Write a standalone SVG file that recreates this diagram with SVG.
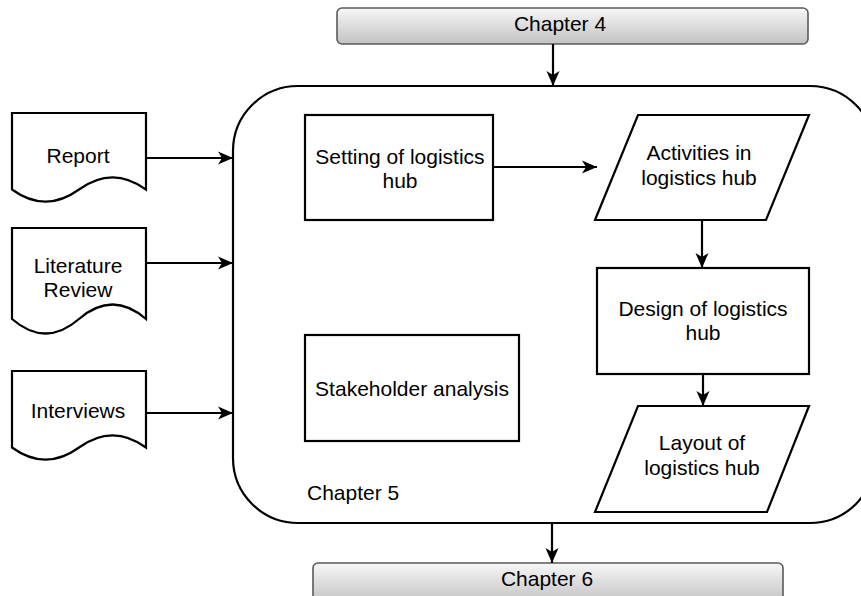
<svg xmlns="http://www.w3.org/2000/svg" width="861" height="596" viewBox="0 0 861 596">
  <style>
    .shape { fill: #ffffff; stroke: #000000; stroke-width: 2.2; }
    .chapter { fill: url(#chapterFill); stroke: #5a5a5a; stroke-width: 1.6; }
    .label { font-family: "Liberation Sans", Arial, Helvetica, sans-serif; font-size: 21px; fill: #000000; text-anchor: middle; }
    .left { text-anchor: start; }
    .edge { fill: none; stroke: #000000; stroke-width: 2.2; }
  </style>
  <defs>
    <linearGradient id="chapterFill" x1="0" y1="0" x2="0" y2="1">
      <stop offset="0" stop-color="#f7f7f7"/>
      <stop offset="1" stop-color="#c2c2c2"/>
    </linearGradient>
    <marker id="arrow" markerUnits="userSpaceOnUse" markerWidth="16" markerHeight="14" refX="15" refY="7" orient="auto">
      <path d="M0,0.5 L15,7 L0,13.5 L4,7 Z" fill="#000000"/>
    </marker>
  </defs>

  <!-- chapter 5 container -->
  <g id="chapter5">
    <rect class="shape" x="233" y="86" width="642" height="437" rx="65" ry="65"/>
    <text class="label left" x="307" y="500">Chapter 5</text>
  </g>

  <g id="chapter4">
    <rect class="chapter" x="337" y="8" width="471" height="36" rx="5" ry="5"/>
    <text class="label" x="560" y="31">Chapter 4</text>
  </g>

  <g id="chapter6">
    <rect class="chapter" x="313" y="563" width="470" height="40" rx="5" ry="5"/>
    <text class="label" x="547" y="586">Chapter 6</text>
  </g>

  <g id="report">
    <path class="shape" d="M12,113 H146 V189.5 Q112.5,165.2 79,189.5 Q45.5,213.8 12,189.5 Z"/>
    <text class="label" x="78" y="163">Report</text>
  </g>

  <g id="literature-review">
    <path class="shape" d="M12,228 H146 V319 Q112.5,290 79,319 Q45.5,348 12,319 Z"/>
    <text class="label" x="78" y="273">Literature</text>
    <text class="label" x="78" y="297">Review</text>
  </g>

  <g id="interviews">
    <path class="shape" d="M12,371 H146 V447.5 Q112.5,423.2 79,447.5 Q45.5,471.8 12,447.5 Z"/>
    <text class="label" x="78" y="418">Interviews</text>
  </g>

  <g id="setting">
    <rect class="shape" x="305" y="115" width="188" height="105"/>
    <text class="label" x="400" y="164">Setting of logistics</text>
    <text class="label" x="400" y="188">hub</text>
  </g>

  <g id="activities">
    <path class="shape" d="M638,115 H809 L766,220 H595 Z"/>
    <text class="label" x="699" y="160">Activities in</text>
    <text class="label" x="699" y="185">logistics hub</text>
  </g>

  <g id="design">
    <rect class="shape" x="597" y="268" width="212" height="106"/>
    <text class="label" x="703" y="316">Design of logistics</text>
    <text class="label" x="703" y="340">hub</text>
  </g>

  <g id="layout">
    <path class="shape" d="M638,406 H809 L767,512 H595 Z"/>
    <text class="label" x="702" y="450">Layout of</text>
    <text class="label" x="702" y="475">logistics hub</text>
  </g>

  <g id="stakeholder">
    <rect class="shape" x="305" y="335" width="214" height="106"/>
    <text class="label" x="412" y="396">Stakeholder analysis</text>
  </g>

  <g id="connectors">
    <line class="edge" x1="553" y1="44" x2="553" y2="86" marker-end="url(#arrow)"/>
    <line class="edge" x1="146" y1="158" x2="233" y2="158" marker-end="url(#arrow)"/>
    <line class="edge" x1="146" y1="263" x2="233" y2="263" marker-end="url(#arrow)"/>
    <line class="edge" x1="146" y1="413" x2="233" y2="413" marker-end="url(#arrow)"/>
    <line class="edge" x1="493" y1="167" x2="597" y2="167" marker-end="url(#arrow)"/>
    <line class="edge" x1="702" y1="220" x2="702" y2="268" marker-end="url(#arrow)"/>
    <line class="edge" x1="703" y1="374" x2="703" y2="406" marker-end="url(#arrow)"/>
    <line class="edge" x1="552" y1="523" x2="552" y2="563" marker-end="url(#arrow)"/>
  </g>
</svg>
